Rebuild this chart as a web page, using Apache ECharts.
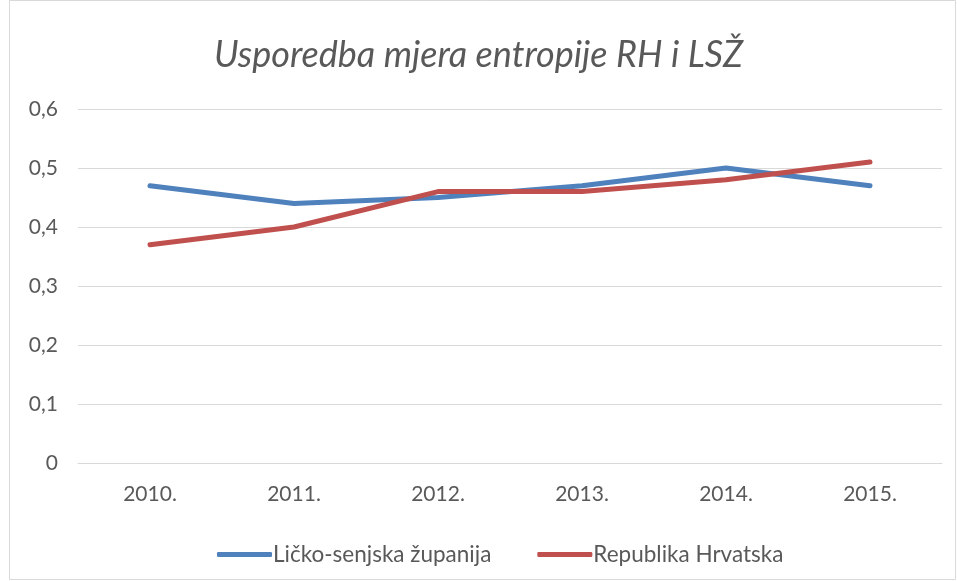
<!DOCTYPE html>
<html><head><meta charset="utf-8">
<script src="https://cdn.jsdelivr.net/npm/echarts@6/dist/echarts.min.js"></script>
<style>html,body{margin:0;padding:0;background:#fff}#c{width:957px;height:581px}</style>
</head><body><div id="c"></div>
<script>
const categories = ['2010.', '2011.', '2012.', '2013.', '2014.', '2015.'];
const lickoSenjska = [0.47, 0.44, 0.45, 0.47, 0.50, 0.47];
const republikaHrvatska = [0.37, 0.40, 0.46, 0.46, 0.48, 0.51];
const seriesNames = ['Ličko-senjska županija', 'Republika Hrvatska'];
const titleText = 'Usporedba mjera entropije RH i LSŽ';

const chart = echarts.init(document.getElementById('c'), null, {renderer: 'canvas'});
const font = 'Lato, "Open Sans", sans-serif';
chart.setOption({
  animation: false,
  backgroundColor: '#fff',
  graphic: [{type: 'rect', shape: {x: 9.5, y: 0.5, width: 946, height: 579}, style: {fill: 'none', stroke: '#d9d9d9', lineWidth: 1}, silent: true}],
  title: {text: titleText, left: 'center', top: 32,
    textStyle: {fontFamily: font, fontStyle: 'italic', fontWeight: 'normal', fontSize: 36, color: '#595959'}},
  grid: {left: 78, right: 15, top: 109, bottom: 118, containLabel: false},
  legend: {top: 538, left: 212, itemWidth: 55, itemHeight: 5, itemGap: 46,
    icon: 'roundRect',
    textStyle: {fontFamily: font, fontSize: 22.5, color: '#595959', padding: [0,0,0,-4]},
    data: seriesNames},
  xAxis: {type: 'category', data: categories, boundaryGap: true,
    axisLine: {lineStyle: {color: '#d9d9d9', width: 1}}, axisTick: {show: false},
    axisLabel: {fontFamily: font, fontSize: 21, color: '#595959', margin: 21}},
  yAxis: {type: 'value', min: 0, max: 0.6, interval: 0.1,
    axisLine: {show: false}, axisTick: {show: false},
    splitLine: {lineStyle: {color: '#d9d9d9', width: 1}},
    axisLabel: {fontFamily: font, fontSize: 21, color: '#595959', margin: 20,
      formatter: v => (Math.round(v*10)/10).toString().replace('.', ',')}},
  series: [
    {name: seriesNames[0], type: 'line', data: lickoSenjska, symbol: 'none',
      lineStyle: {color: '#4f81bd', width: 5, cap: 'round', join: 'round'}, itemStyle: {color: '#4f81bd'}},
    {name: seriesNames[1], type: 'line', data: republikaHrvatska, symbol: 'none',
      lineStyle: {color: '#c0504d', width: 5, cap: 'round', join: 'round'}, itemStyle: {color: '#c0504d'}}
  ]
});
</script></body></html>
